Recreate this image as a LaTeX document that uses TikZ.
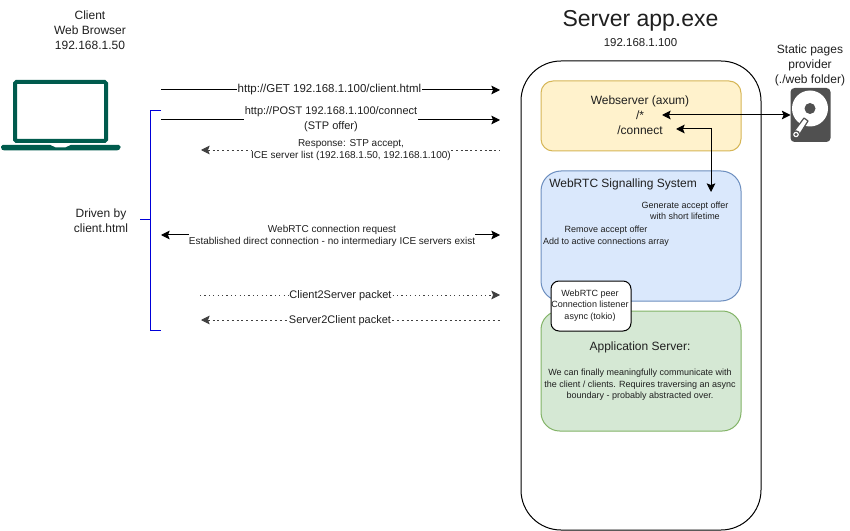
\documentclass[tikz,border=0pt]{standalone}
\usepackage{fontspec}
\setmainfont{Liberation Sans}
\usetikzlibrary{arrows.meta}
\definecolor{ink}{HTML}{1F1F1F}
\definecolor{laptopgreen}{HTML}{005B4D}
\definecolor{drivegrey}{HTML}{505050}
\definecolor{webfill}{RGB}{255,242,204}
\definecolor{webline}{RGB}{214,182,86}
\definecolor{rtcfill}{RGB}{218,232,252}
\definecolor{rtcline}{RGB}{108,142,191}
\definecolor{appfill}{RGB}{213,232,212}
\definecolor{appline}{RGB}{130,179,102}
\tikzset{
  every node/.style={text=ink},
  txt/.style={font=\fontsize{9}{11.25}\selectfont,align=center,inner sep=0pt},
  msg/.style={font=\fontsize{8.25}{11.25}\selectfont,align=center,inner sep=.6pt},
  msgsmall/.style={font=\fontsize{7.5}{9}\selectfont,align=center,inner sep=0pt},
  small/.style={font=\fontsize{6.75}{8.6}\selectfont,align=center,inner sep=0pt},
  wire/.style={draw=black,line width=.75pt},
  tip/.style={-{Stealth[length=6.5pt,width=6.5pt,inset=1.3pt]}},
  tipback/.style={{Stealth[length=6.5pt,width=6.5pt,inset=1.3pt]}-},
  tipboth/.style={{Stealth[length=6.5pt,width=6.5pt,inset=1.3pt]}-{Stealth[length=6.5pt,width=6.5pt,inset=1.3pt]}},
  dashline/.style={dash pattern=on 1.6pt off 2pt,draw=black!75,line width=.55pt},
  dotline/.style={dash pattern=on .9pt off 2.4pt,draw=black!75,line width=.65pt},
  panel/.style={draw,line width=.75pt,minimum width=150pt,inner sep=0pt},
  brace/.style={draw=blue!85!black,line width=.75pt},
}
\begin{document}
\begin{tikzpicture}[x=.75pt,y=-.75pt]
\useasboundingbox (0,0) rectangle (850,531);
\fill[white] (0,0) rectangle (850,531);

% server and panels
\node[draw=black,line width=.75pt,rounded corners=30pt,minimum width=180pt,minimum height=351.75pt,inner sep=0pt] (server) at (641,295.5) {};
\node[panel,fill=webfill,draw=webline,rounded corners=9pt,minimum height=52.5pt] (web) at (641,116) {};
\node[panel,fill=rtcfill,draw=rtcline,rounded corners=15pt,minimum height=97.5pt] (rtc) at (641,236) {};
\node[panel,fill=appfill,draw=appline,rounded corners=14pt,minimum height=90pt] (app) at (641,371) {};
\node[draw=black,fill=white,line width=.75pt,rounded corners=6pt,minimum width=60pt,minimum height=37.5pt,inner sep=0pt] (listener) at (591,306) {};
\node[small] (listenertext) at (590,305.5) {WebRTC peer\\Connection listener\\async (tokio)};

% panel texts
\node[txt] (webtext) at (640,115.5) {Webserver (axum)\\/*\\/connect};
\node[txt,anchor=west] (rtctitle) at (549,184.5) {WebRTC Signalling System};
\node[small] (gen) at (685,211) {Generate accept offer\\with short lifetime};
\node[small] (rem) at (606,236) {Remove accept offer\\Add to active connections array};
\node[txt] (apptitle) at (640,347.5) {Application Server:};
\node[small] (appbody) at (640,385) {We can finally meaningfully communicate with\\the client / clients. Requires traversing an async\\boundary - probably abstracted over.};

% headings
\node[txt] (client) at (90,30) {Client\\Web Browser\\192.168.1.50};
\node[font=\fontsize{17.25}{20}\selectfont,inner sep=0pt] (title) at (640.5,21) {Server app.exe};
\node[font=\fontsize{8.6}{10}\selectfont,inner sep=0pt] (ip) at (640.5,43) {192.168.1.100};
\node[txt] (static) at (810,65) {Static pages\\provider\\(./web folder)};
\node[txt] (driven) at (101,220.5) {Driven by\\client.html};

% laptop
\node[draw=laptopgreen,fill=white,line width=3pt,rounded corners=1pt,minimum width=68.25pt,minimum height=44.25pt,inner sep=0pt,outer sep=0pt] (laptop) at (60.5,111.5) {};
\fill[laptopgreen,rounded corners=1.2pt] (1,145) -- (52,145) -- (54,147.5) -- (67,147.5) -- (69,145) -- (120.5,145) -- (120.5,149) -- (118,150.5) -- (3,150.5) -- (1,149) -- cycle;

% hard drive
\node[fill=drivegrey,rounded corners=3pt,minimum width=30pt,minimum height=40.5pt,inner sep=0pt,outer sep=0pt] (drive) at (810.5,115) {};
\fill[white] (810,108.5) circle (18);
\fill[drivegrey] (810,108.5) circle (5.5);
\fill[white,draw=drivegrey,line width=.9pt,line join=round] (793.5,132) -- (804,118) -- (808,121) -- (798,137) -- cycle;
\fill[white,draw=drivegrey,line width=.9pt] (796,134.5) circle (3.6);
\fill[drivegrey] (796,134.5) circle (1.6);

% message labels
\node[msg,font=\fontsize{8.6}{11.25}\selectfont] (getl) at (329.5,90) {http://GET 192.168.1.100/client.html};
\node[msg] (postl) at (331,119) {http://POST 192.168.1.100/connect\\(STP offer)};
\node[msgsmall] (respl) at (351,150.5) {Response: STP accept,\\ICE server list (192.168.1.50, 192.168.1.100)};
\node[msgsmall] (wrtcl) at (332,236) {WebRTC connection request\\Established direct connection - no intermediary ICE servers exist};
\node[msg] (c2s) at (340.5,296) {Client2Server packet};
\node[msg] (s2c) at (340,320.5) {Server2Client packet};

% free ends
\coordinate (gA) at (161,90);   \coordinate (gB) at (500,90);
\coordinate (pA) at (161,120);  \coordinate (pB) at (500,120);
\coordinate (rA) at (201,150);  \coordinate (rB) at (500,150);
\coordinate (wA) at (161,235);  \coordinate (wB) at (500,235);
\coordinate (cA) at (200,295);  \coordinate (cB) at (500,295);
\coordinate (sA) at (201,320);  \coordinate (sB) at (500,320);
\coordinate (brT) at (161,111); \coordinate (brB) at (161,330);
\coordinate (brM) at (150,220); \coordinate (brL) at (140,220);
\coordinate (rootEnd) at (662,115);
\coordinate (connEnd) at (676,129);
\coordinate (rtcEnd) at (711,192);

% connectors
\draw[wire] (gA) -- (getl.west |- gA);
\draw[wire,tip] (getl.east |- gB) -- (gB);
\draw[wire] (pA) -- (postl.west |- pA);
\draw[wire,tip] (postl.east |- pB) -- (pB);
\draw[dashline,tipback] (rA) -- (respl.west |- rA);
\draw[dashline] (respl.east |- rB) -- (rB);
\draw[wire,tipback] (wA) -- (wrtcl.west |- wA);
\draw[wire,tip] (wrtcl.east |- wB) -- (wB);
\draw[dotline] (cA) -- (c2s.west |- cA);
\draw[dotline,tip] (c2s.east |- cB) -- (cB);
\draw[dashline,tipback] (sA) -- (s2c.west |- sA);
\draw[dashline] (s2c.east |- sB) -- (sB);
\draw[brace] (brT) -- (brT -| brM) -- (brB -| brM) -- (brB);
\draw[brace] (brL) -- (brM);
\draw[wire,tipboth] (rootEnd) -- (drive.west |- rootEnd);
\draw[wire,tipboth] (connEnd) -- (connEnd -| rtcEnd) -- (rtcEnd);
\end{tikzpicture}
\end{document}
